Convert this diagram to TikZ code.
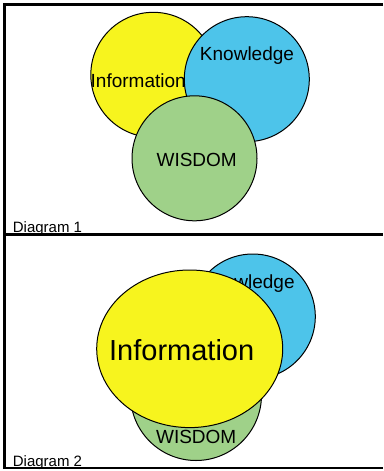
\documentclass[tikz,border=0pt]{standalone}
\usepackage{fontspec}
\setmainfont{Liberation Sans}
\usetikzlibrary{shapes.geometric}
\definecolor{infoyellow}{RGB}{247,244,30}
\definecolor{knowblue}{RGB}{77,196,234}
\definecolor{wisgreen}{RGB}{159,209,137}
\tikzset{
  blob/.style={draw=black, line width=1pt, inner sep=0pt, outer sep=0pt},
  disc/.style={blob, circle, minimum size=125pt},
  lbl/.style={inner sep=0pt, anchor=base, font=\fontsize{19}{19}\selectfont},
  panellabel/.style={inner sep=0pt, anchor=base west, font=\fontsize{15}{15}\selectfont},
  framerule/.style={line width=2.5pt, draw=black}
}
\begin{document}
\begin{tikzpicture}[x=1pt,y=-1pt]
  \useasboundingbox (0,0) rectangle (383,471);
  \fill[white] (0,0) rectangle (383,471);

  % ---- Diagram 1: three overlapping circles ----
  \node[disc, fill=infoyellow] (info1) at (153.3,74.8) {};
  \node[lbl] (infotext1) at (138.2,87.3) {Information};
  \node[disc, fill=knowblue] (know1) at (246.8,79.2) {};
  \node[lbl] (knowtext1) at (247,60) {Knowledge};
  \node[disc, fill=wisgreen] (wis1) at (194.5,158.3) {};
  \node[lbl] (wistext1) at (196.7,166) {WISDOM};
  \node[panellabel] (label1) at (12.7,232.7) {Diagram 1};

  % ---- Diagram 2: information grown over the others ----
  \node[disc, fill=wisgreen, minimum size=131pt] (wis2) at (196,395) {};
  \node[lbl] (wistext2) at (196.2,443.3) {WISDOM};
  \node[disc, fill=knowblue] (know2) at (252.8,316.5) {};
  \node[lbl] (knowtext2) at (247.6,288.3) {Knowledge};
  \node[blob, ellipse, fill=infoyellow, minimum width=186pt, minimum height=157.6pt] (info2) at (189.7,348.8) {};
  \node[lbl, font=\fontsize{29}{29}\selectfont] (infotext2) at (181.7,360.7) {Information};
  \node[panellabel] (label2) at (12.7,466) {Diagram 2};

  % ---- panel frame ----
  \coordinate (tl) at (4.3,4.3);
  \coordinate (bl) at (4.3,468);
  \draw[framerule] (383,4.3) -- (tl) -- (bl) -- (383,468);
  \draw[framerule] (4.3,234.7) -- (383,234.7);
\end{tikzpicture}
\end{document}
